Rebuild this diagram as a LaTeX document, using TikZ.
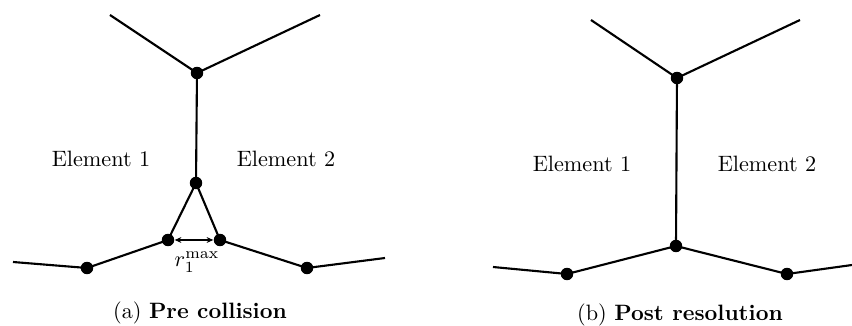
\documentclass[tikz,border=0pt]{standalone}
\usetikzlibrary{arrows.meta}
\begin{document}
\begin{tikzpicture}[x=0.45pt,y=-0.45pt,
  dot/.style={circle,fill=black,inner sep=0pt,minimum size=5.6pt},
  edge/.style={line width=0.95pt},
  lbl/.style={font=\normalsize}]
\useasboundingbox (0,0) rectangle (852,326);
% ---- left panel
\coordinate (aTL) at (110,15);
\coordinate (aTR) at (320,15);
\node[dot] (aT) at (197,73) {};
\node[dot] (aM) at (196,183) {};
\node[dot] (aL) at (168,240) {};
\node[dot] (aR) at (220,240) {};
\node[dot] (aBL) at (87,268) {};
\node[dot] (aBR) at (307,268) {};
\coordinate (aEL) at (13,262);
\coordinate (aER) at (385,258);
\draw[edge] (aTL) -- (aT.center) -- (aTR);
\draw[edge] (aT.center) -- (aM.center);
\draw[edge] (aL.center) -- (aM.center) -- (aR.center);
\draw[edge] (aEL) -- (aBL.center) -- (aL.center);
\draw[edge] (aR.center) -- (aBR.center) -- (aER);
\draw[line width=0.5pt,{Stealth[length=3pt,width=2.6pt]}-{Stealth[length=3pt,width=2.6pt]}] (aL.east) -- (aR.west);
\node[lbl,inner sep=0pt] (rlab) at (197,262) {$r_1^{\mathrm{max}}$};
\node[lbl] (e1a) at (101,159) {Element 1};
\node[lbl] (e2a) at (286,159) {Element 2};
\node[lbl] (capa) at (200,313) {(a) \textbf{Pre collision}};
% ---- right panel
\coordinate (bTL) at (591,20);
\coordinate (bTR) at (800,20);
\node[dot] (bT) at (677,78) {};
\node[dot] (bB) at (676,246) {};
\node[dot] (bBL) at (567,274) {};
\node[dot] (bBR) at (787,274) {};
\coordinate (bEL) at (493,267);
\coordinate (bER) at (852,265);
\draw[edge] (bTL) -- (bT.center) -- (bTR);
\draw[edge] (bT.center) -- (bB.center);
\draw[edge] (bEL) -- (bBL.center) -- (bB.center) -- (bBR.center) -- (bER);
\node[lbl] (e1b) at (582,164) {Element 1};
\node[lbl] (e2b) at (767,164) {Element 2};
\node[lbl] (capb) at (680,315) {(b) \textbf{Post resolution}};
\end{tikzpicture}
\end{document}
